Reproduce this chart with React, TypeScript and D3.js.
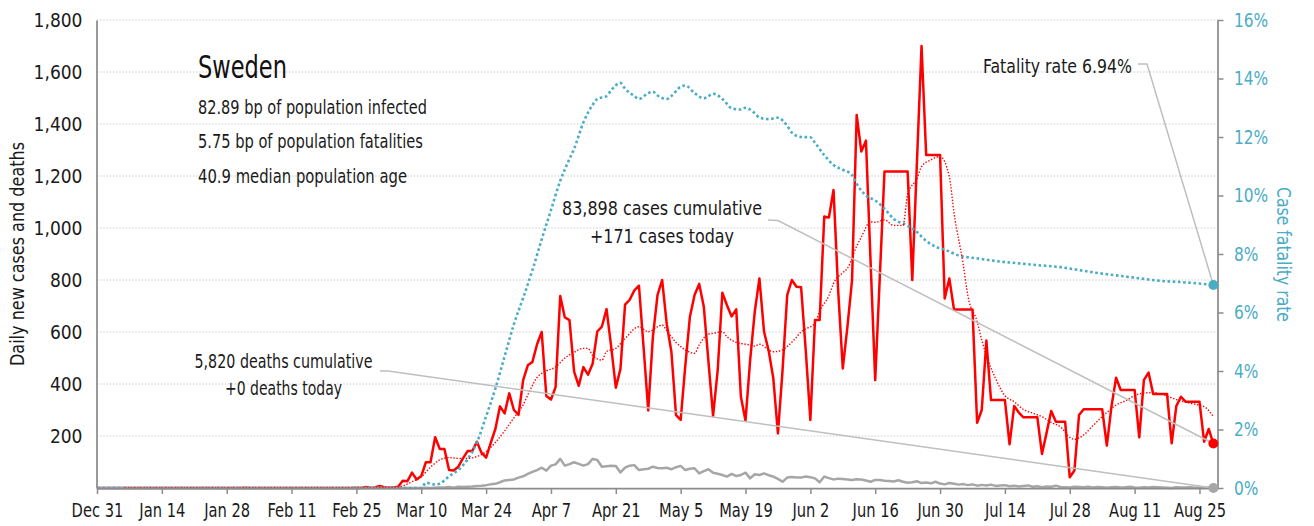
import React, { useEffect, useRef } from 'react';
import * as d3 from 'd3';

// day 0 = Dec 31, 2019
const startDate = new Date(2019, 11, 31);
const endDate = new Date(2020, 7, 29);

// daily new cases, one value per day from Dec 31
const dailyCases = [
  0, 0, 0, 0, 0, 0, 0, 0, 0, 0,
  0, 0, 0, 0, 0, 0, 0, 0, 0, 0,
  0, 0, 0, 0, 0, 0, 0, 0, 0, 0,
  0, 0, 1, 0, 0, 0, 0, 0, 0, 0,
  0, 0, 0, 0, 0, 0, 0, 0, 0, 0,
  0, 0, 0, 0, 0, 0, 1, 0, 4, 1,
  2, 8, 3, 1, 2, 5, 28, 26, 59, 33,
  46, 99, 99, 195, 150, 150, 69, 67, 82, 114,
  142, 142, 178, 136, 117, 174, 227, 314, 287, 364,
  300, 281, 415, 472, 485, 553, 600, 354, 340, 388,
  738, 656, 646, 448, 393, 465, 436, 478, 602, 621,
  688, 544, 386, 458, 705, 724, 760, 778, 540, 298,
  580, 742, 800, 630, 524, 280, 262, 470, 659, 742,
  785, 697, 486, 277, 454, 751, 703, 660, 687, 351,
  259, 492, 678, 806, 601, 528, 422, 210, 454, 742,
  800, 774, 772, 530, 262, 646, 646, 1044, 1040, 1146,
  760, 460, 620, 800, 1435, 1294, 1336, 870, 415, 816,
  1217, 1217, 1217, 1217, 1217, 1217, 800, 1250, 1700, 1281,
  1281, 1281, 1281, 729, 806, 687, 687, 687, 687, 687,
  251, 300, 567, 338, 338, 338, 338, 168, 315, 290,
  272, 272, 272, 272, 131, 213, 296, 255, 255, 255,
  41, 67, 281, 303, 303, 303, 303, 303, 163, 313,
  424, 377, 377, 377, 377, 195, 415, 444, 362, 362,
  362, 362, 172, 315, 351, 332, 332, 332, 332, 178,
  227, 171,
];

// daily deaths, same days
const dailyDeaths = [
  0, 0, 0, 0, 0, 0, 0, 0, 0, 0,
  0, 0, 0, 0, 0, 0, 0, 0, 0, 0,
  0, 0, 0, 0, 0, 0, 0, 0, 0, 0,
  0, 0, 0, 0, 0, 0, 0, 0, 0, 0,
  0, 0, 0, 0, 0, 0, 0, 0, 0, 0,
  0, 0, 0, 0, 0, 0, 0, 0, 0, 0,
  0, 0, 0, 0, 0, 0, 0, 0, 0, 0,
  0, 1, 0, 1, 2, 2, 4, 1, 5, 4,
  5, 6, 8, 9, 11, 14, 16, 22, 29, 31,
  33, 40, 45, 54, 62, 69, 78, 67, 86, 91,
  112, 86, 92, 99, 93, 86, 92, 112, 108, 82,
  84, 86, 85, 60, 78, 86, 88, 69, 72, 74,
  82, 77, 76, 78, 72, 80, 85, 69, 74, 76,
  56, 65, 72, 59, 55, 50, 44, 54, 46, 50,
  59, 37, 53, 50, 56, 49, 44, 35, 24, 40,
  42, 40, 40, 44, 41, 37, 22, 44, 38, 33,
  36, 35, 33, 31, 34, 33, 29, 24, 31, 31,
  28, 27, 25, 30, 24, 20, 22, 26, 19, 21,
  18, 24, 17, 14, 19, 16, 13, 15, 11, 14,
  9, 12, 10, 13, 8, 10, 11, 7, 9, 6,
  8, 10, 5, 7, 3, 6, 5, 9, 4, 3,
  2, 5, 4, 3, 5, 2, 4, 3, 1, 3,
  4, 2, 3, 5, 2, 1, 3, 2, 4, 3,
  2, 1, 0, 3, 2, 2, 3, 1, 2, 1,
  2, 0,
];

// 7-day average of cases (day index, value)
const avgDays = [6, 60, 62, 64, 65, 66, 68, 70, 72, 74, 76, 78, 80, 82, 84, 86, 88, 90, 92, 93, 95, 97, 99, 101, 103, 105, 106, 107, 109, 110, 112, 114, 117, 119, 121, 122, 123, 125, 126, 128, 129, 130, 132, 133, 135, 136, 138, 139, 141, 142, 143, 145, 146, 148, 149, 151, 152, 153, 155, 156, 158, 159, 161, 162, 164, 165, 167, 168, 170, 172, 174, 175, 177, 178, 180, 182, 184, 185, 187, 188, 190, 191, 192, 194, 196, 198, 200, 202, 204, 206, 208, 210, 211, 213, 215, 217, 220, 222, 225, 228, 230, 233, 236, 239, 241];
const avgCases = [0, 0, 2, 3, 4, 8, 24, 43, 80, 108, 117, 114, 114, 121, 140, 175, 220, 270, 320, 358, 425, 450, 465, 500, 522, 537, 537, 510, 492, 525, 537, 575, 620, 601, 620, 627, 605, 560, 544, 522, 518, 550, 592, 595, 601, 582, 560, 556, 550, 546, 553, 531, 524, 531, 544, 580, 601, 612, 633, 680, 740, 787, 828, 845, 930, 965, 1024, 1022, 1031, 1010, 1010, 1130, 1190, 1236, 1262, 1275, 1197, 1060, 860, 740, 640, 569, 510, 420, 355, 332, 302, 288, 274, 252, 235, 195, 187, 204, 240, 274, 319, 335, 362, 367, 360, 340, 326, 313, 274];

// case fatality rate in % (day index, value)
const cfrDays = [0, 70, 71, 73, 74, 76, 78, 80, 82, 84, 86, 88, 90, 92, 94, 96, 98, 100, 102, 103, 105, 107, 108, 110, 111, 113, 114, 116, 117, 119, 120, 121, 123, 124, 126, 127, 129, 131, 132, 133, 135, 136, 137, 139, 140, 142, 143, 145, 147, 149, 150, 152, 154, 155, 157, 159, 161, 163, 164, 166, 168, 170, 172, 175, 177, 179, 181, 183, 186, 190, 195, 199, 203, 208, 212, 216, 221, 225, 229, 234, 238, 241];
const cfrPct = [0, 0, 0.18, 0.12, 0.15, 0.4, 0.62, 0.98, 1.55, 2.45, 3.4, 4.5, 5.6, 6.5, 7.45, 8.5, 9.5, 10.5, 11.25, 11.6, 12.5, 13.1, 13.3, 13.4, 13.6, 13.85, 13.65, 13.4, 13.3, 13.5, 13.55, 13.42, 13.3, 13.4, 13.72, 13.76, 13.5, 13.32, 13.4, 13.48, 13.3, 13.13, 12.98, 12.94, 13.0, 12.81, 12.66, 12.61, 12.66, 12.38, 12.15, 12.0, 11.99, 11.8, 11.38, 11.04, 10.88, 10.7, 10.4, 10.0, 9.83, 9.55, 9.2, 8.97, 8.75, 8.45, 8.25, 8.15, 7.95, 7.85, 7.74, 7.68, 7.62, 7.55, 7.45, 7.35, 7.25, 7.17, 7.09, 7.04, 6.99, 6.94];

const leftTicks = [200, 400, 600, 800, 1000, 1200, 1400, 1600, 1800];
const rightTicks = [0, 2, 4, 6, 8, 10, 12, 14, 16];

const country = 'Sweden';
const infoLines = [
  '82.89 bp of population infected',
  '5.75 bp of population fatalities',
  '40.9 median population age',
];
const casesNote = ['83,898 cases cumulative', '+171 cases today'];
const deathsNote = ['5,820 deaths cumulative', '+0 deaths today'];
const rateNote = 'Fatality rate 6.94%';

const FONT = "'DejaVu Sans Condensed', 'Liberation Sans Narrow', 'Roboto', sans-serif";
const RED = '#ff0000';
const GREY = '#a6a6a6';
const BLUE = '#4bacc6';
const AXIS = '#8c8c8c';
const LEADER = '#bfbfbf';
const INK = '#1a1a1a';

const W = 1314;
const H = 526;

const Chart = () => {
  const svgRef = useRef<SVGSVGElement>(null);

  useEffect(() => {
    if (!svgRef.current) return;
    const svg = d3.select(svgRef.current);
    svg.selectAll('*').remove();
    svg.attr('font-family', FONT);

    const x = d3.scaleTime().domain([startDate, endDate]).range([97, 1218]);
    const y = d3.scaleLinear().domain([0, 1800]).range([488, 20]);
    const yR = d3.scaleLinear().domain([0, 16]).range([488, 20]);
    const day = (i: number) => d3.timeDay.offset(startDate, i);
    const lastDay = dailyCases.length - 1;

    // the reference face is narrow, so squeeze text to the widths seen there
    const squeeze = (sel: any, w: number) =>
      sel.attr('textLength', w).attr('lengthAdjust', 'spacingAndGlyphs');

    // grid
    svg.append('g')
      .selectAll('line')
      .data(leftTicks)
      .enter().append('line')
        .attr('x1', x(startDate)).attr('x2', x(endDate))
        .attr('y1', d => y(d)).attr('y2', d => y(d))
        .attr('stroke', '#c4c4c4')
        .attr('stroke-width', 1)
        .attr('stroke-dasharray', '1.3,1.9');

    const caseLine = d3.line<number>()
      .x((_, i) => x(day(i)))
      .y(d => y(d));

    svg.append('path')
      .datum(dailyCases)
      .attr('d', caseLine)
      .attr('fill', 'none')
      .attr('stroke', RED)
      .attr('stroke-width', 2.5)
      .attr('stroke-linejoin', 'round');

    svg.append('path')
      .datum(dailyDeaths)
      .attr('d', caseLine)
      .attr('fill', 'none')
      .attr('stroke', GREY)
      .attr('stroke-width', 2.5)
      .attr('stroke-linejoin', 'round');

    const cfrLine = d3.line<number>()
      .x((_, i) => x(day(cfrDays[i])))
      .y(d => yR(d))
      .curve(d3.curveMonotoneX);

    svg.append('path')
      .datum(cfrPct)
      .attr('d', cfrLine)
      .attr('fill', 'none')
      .attr('stroke', BLUE)
      .attr('stroke-width', 2.6)
      .attr('stroke-dasharray', '2.6,2.6');

    const avgLine = d3.line<number>()
      .x((_, i) => x(day(avgDays[i])))
      .y(d => y(d))
      .curve(d3.curveMonotoneX);

    svg.append('path')
      .datum(avgCases)
      .attr('d', avgLine)
      .attr('fill', 'none')
      .attr('stroke', RED)
      .attr('stroke-width', 1.4)
      .attr('stroke-dasharray', '1.4,1.7');

    // axes
    const xTicks = d3.timeDay.range(startDate, endDate, 14);
    const fmt = (d: Date) => `${d3.timeFormat('%b')(d)} ${d.getDate()}`;

    const bottom = svg.append('g')
      .attr('transform', `translate(0,${y(0)})`)
      .call(d3.axisBottom(x).tickValues(xTicks).tickFormat(fmt as any).tickSize(6).tickSizeOuter(0));
    bottom.select('.domain').attr('stroke', AXIS).attr('stroke-width', 1.75);
    bottom.selectAll('.tick line').attr('stroke', AXIS).attr('stroke-width', 1.5);
    bottom.selectAll('.tick text')
      .attr('font-size', 19).attr('font-family', FONT).attr('fill', INK)
      .attr('dy', '1.05em')
      .attr('transform', 'scale(0.86,1)');

    const left = svg.append('g')
      .attr('transform', `translate(${x(startDate) - 0.5},0)`)
      .call(d3.axisLeft(y).tickValues(leftTicks).tickFormat(d3.format(',') as any).tickSize(0).tickSizeOuter(0).tickPadding(14));
    left.select('.domain').attr('stroke', AXIS).attr('stroke-width', 1.75);
    left.selectAll('.tick text').attr('font-size', 19).attr('font-family', FONT).attr('fill', INK);

    const right = svg.append('g')
      .attr('transform', `translate(${x(endDate) - 0.5},0)`)
      .call(d3.axisRight(yR).tickValues(rightTicks).tickFormat(d => `${d}%`).tickSize(6).tickSizeOuter(0).tickPadding(10));
    right.select('.domain').attr('stroke', AXIS).attr('stroke-width', 1.75);
    right.selectAll('.tick line').attr('stroke', AXIS).attr('stroke-width', 1.5);
    right.selectAll('.tick text')
      .attr('font-size', 19).attr('font-family', FONT).attr('fill', BLUE)
      .attr('x', 0)
      .attr('transform', 'translate(16.5,0) scale(0.9,1)');

    squeeze(svg.append('text')
      .attr('transform', `translate(24,254) rotate(-90)`)
      .attr('text-anchor', 'middle')
      .attr('font-size', 19)
      .attr('fill', INK)
      .text('Daily new cases and deaths'), 224);

    squeeze(svg.append('text')
      .attr('transform', `translate(1277,254.5) rotate(90)`)
      .attr('text-anchor', 'middle')
      .attr('font-size', 19)
      .attr('fill', BLUE)
      .text('Case fatality rate'), 135);

    // leaders and end markers
    const endX = x(day(lastDay));
    const leader = (pts: [number, number][]) => {
      svg.append('path')
        .attr('d', d3.line()(pts))
        .attr('fill', 'none')
        .attr('stroke', LEADER)
        .attr('stroke-width', 1.5);
    };
    leader([[380, 371], [388, 371], [endX, y(dailyDeaths[lastDay])]]);
    leader([[768, 220], [778, 220.5], [endX, y(dailyCases[lastDay])]]);
    leader([[1138, 64], [1147, 64], [endX, yR(cfrPct[cfrPct.length - 1])]]);

    svg.append('circle').attr('cx', endX).attr('cy', y(dailyDeaths[lastDay])).attr('r', 5).attr('fill', GREY);
    svg.append('circle').attr('cx', endX).attr('cy', y(dailyCases[lastDay])).attr('r', 5).attr('fill', RED);
    svg.append('circle').attr('cx', endX).attr('cy', yR(cfrPct[cfrPct.length - 1])).attr('r', 5).attr('fill', BLUE);

    // text blocks
    squeeze(svg.append('text')
      .attr('x', 198).attr('y', 77.5)
      .attr('font-size', 32)
      .attr('fill', '#111')
      .text(country), 89);

    const infoWidths = [229, 225, 209];
    svg.append('g')
      .selectAll('text')
      .data(infoLines)
      .enter().append('text')
        .attr('x', 198)
        .attr('y', (_, i) => 113.5 + i * 34.8)
        .attr('font-size', 20)
        .attr('fill', INK)
        .attr('textLength', (_, i) => infoWidths[i])
        .attr('lengthAdjust', 'spacingAndGlyphs')
        .text(d => d);

    const note = (lines: string[], widths: number[], cx: number, y0: number) => {
      svg.append('g')
        .selectAll('text')
        .data(lines)
        .enter().append('text')
          .attr('x', cx)
          .attr('y', (_, i) => y0 + i * 27.5)
          .attr('text-anchor', 'middle')
          .attr('font-size', 20)
          .attr('fill', INK)
          .attr('textLength', (_, i) => widths[i])
          .attr('lengthAdjust', 'spacingAndGlyphs')
          .text(d => d);
    };
    note(casesNote, [200, 144], 662, 215);
    note(deathsNote, [178, 117], 283.5, 367.5);

    squeeze(svg.append('text')
      .attr('x', 1132).attr('y', 72.5)
      .attr('text-anchor', 'end')
      .attr('font-size', 20)
      .attr('fill', INK)
      .text(rateNote), 149);
  }, []);

  return (
    <svg ref={svgRef} width={W} height={H}
      style={{ position: 'absolute', left: 0, top: 0, background: '#fff' }} />
  );
};

export default function App() {
  return <Chart />;
}
